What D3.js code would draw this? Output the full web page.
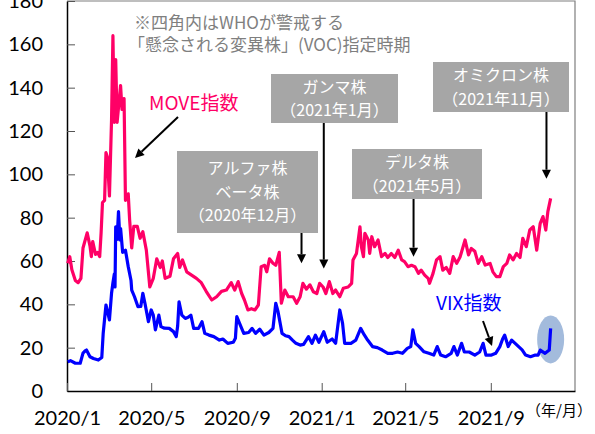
<!DOCTYPE html>
<html>
<head>
<meta charset="utf-8">
<script src="https://cdn.jsdelivr.net/npm/d3@7"></script>
<style>
  body { margin: 0; background: #fff; }
  svg { display: block; }
  .tick text { font-family: Lato, "Liberation Sans", sans-serif; }
  .jp { font-family: "Noto Sans CJK JP", sans-serif; }
</style>
</head>
<body>
<div id="chart"></div>
<script>
// y axis ticks and x axis tick dates / labels
const yTicks = [0, 20, 40, 60, 80, 100, 120, 140, 160, 180];
const xTickDates = ["2020-01-01", "2020-05-01", "2020-09-01", "2021-01-01", "2021-05-01", "2021-09-01"];
const xTickLabels = ["2020/1", "2020/5", "2020/9", "2021/1", "2021/5", "2021/9"];

// MOVE index
const moveSeries = [
  ["2020-01-02", 59], ["2020-01-05", 62], ["2020-01-08", 56], ["2020-01-13", 51], ["2020-01-17", 50],
  ["2020-01-21", 52], ["2020-01-24", 66], ["2020-01-30", 73], ["2020-02-03", 67], ["2020-02-05", 62],
  ["2020-02-07", 69], ["2020-02-11", 63], ["2020-02-14", 64], ["2020-02-17", 62], ["2020-02-19", 73],
  ["2020-02-21", 87], ["2020-02-24", 88], ["2020-02-26", 110], ["2020-02-28", 108], ["2020-03-02", 90],
  ["2020-03-05", 125], ["2020-03-07", 164], ["2020-03-09", 124], ["2020-03-11", 153], ["2020-03-13", 124],
  ["2020-03-18", 141], ["2020-03-20", 130], ["2020-03-23", 135], ["2020-03-25", 88], ["2020-03-29", 91],
  ["2020-03-31", 79], ["2020-04-03", 66], ["2020-04-06", 76], ["2020-04-11", 76], ["2020-04-15", 70.5],
  ["2020-04-19", 73.5], ["2020-04-24", 65], ["2020-04-29", 48], ["2020-05-04", 52], ["2020-05-09", 61],
  ["2020-05-14", 57], ["2020-05-17", 60], ["2020-05-21", 52], ["2020-05-28", 53], ["2020-06-02", 61],
  ["2020-06-08", 63.5], ["2020-06-11", 57], ["2020-06-15", 60.5], ["2020-06-21", 55], ["2020-06-28", 53.5],
  ["2020-07-05", 52], ["2020-07-12", 50], ["2020-07-19", 46], ["2020-07-27", 42], ["2020-08-03", 43.5],
  ["2020-08-10", 46], ["2020-08-17", 46.6], ["2020-08-24", 50], ["2020-08-29", 46.6], ["2020-09-03", 50.5],
  ["2020-09-08", 45], ["2020-09-12", 42], ["2020-09-17", 37.4], ["2020-09-22", 38], ["2020-09-27", 37.4],
  ["2020-10-02", 39.7], ["2020-10-06", 57.4], ["2020-10-11", 58], ["2020-10-14", 55], ["2020-10-18", 61],
  ["2020-10-23", 59], ["2020-10-27", 58], ["2020-11-01", 64], ["2020-11-04", 40.5], ["2020-11-09", 46.6],
  ["2020-11-14", 43.5], ["2020-11-21", 43.5], ["2020-11-26", 40.5], ["2020-12-01", 43.5], ["2020-12-05", 49.7],
  ["2020-12-10", 47], ["2020-12-15", 49], ["2020-12-20", 45.8], ["2020-12-25", 45], ["2020-12-29", 49.7],
  ["2021-01-03", 48], ["2021-01-07", 45], ["2021-01-12", 50.5], ["2021-01-17", 45], ["2021-01-21", 46.6],
  ["2021-01-27", 43.5], ["2021-02-01", 47.4], ["2021-02-08", 48], ["2021-02-13", 49.7], ["2021-02-15", 60.5],
  ["2021-02-20", 63.5], ["2021-02-25", 75.8], ["2021-02-27", 66.6], ["2021-03-02", 62], ["2021-03-04", 72.8],
  ["2021-03-09", 69.7], ["2021-03-11", 63.5], ["2021-03-14", 71.2], ["2021-03-18", 66.6], ["2021-03-23", 69.7],
  ["2021-03-28", 62], ["2021-04-02", 63.5], ["2021-04-06", 61.6], ["2021-04-11", 63.5], ["2021-04-16", 61.6],
  ["2021-04-21", 65], ["2021-04-26", 60.5], ["2021-04-30", 59.7], ["2021-05-05", 57.4], ["2021-05-10", 58],
  ["2021-05-15", 57.4], ["2021-05-20", 54.3], ["2021-05-24", 55.8], ["2021-05-29", 53.5], ["2021-06-03", 52],
  ["2021-06-05", 49.7], ["2021-06-10", 54.3], ["2021-06-15", 60.5], ["2021-06-20", 62], ["2021-06-24", 55.8],
  ["2021-06-29", 57], ["2021-07-04", 54.3], ["2021-07-09", 62], ["2021-07-14", 58.9], ["2021-07-19", 62],
  ["2021-07-26", 69.7], ["2021-07-31", 62.8], ["2021-08-04", 65.8], ["2021-08-09", 64.5], ["2021-08-14", 58.9],
  ["2021-08-19", 62], ["2021-08-24", 58.1], ["2021-08-31", 58.9], ["2021-09-04", 55], ["2021-09-09", 52.8],
  ["2021-09-14", 52.8], ["2021-09-19", 57.4], ["2021-09-24", 58.9], ["2021-09-28", 62.8], ["2021-10-03", 60.5],
  ["2021-10-08", 63.5], ["2021-10-13", 61.6], ["2021-10-17", 70.5], ["2021-10-22", 66.6], ["2021-10-27", 74.3],
  ["2021-11-01", 75.8], ["2021-11-06", 65], ["2021-11-11", 77.4], ["2021-11-15", 80.5], ["2021-11-19", 74.3],
  ["2021-11-22", 82.8], ["2021-11-26", 88.9]
];

// VIX index
const vixSeries = [
  ["2020-01-02", 13.5], ["2020-01-06", 14], ["2020-01-13", 12.8], ["2020-01-20", 12.8], ["2020-01-24", 17.5],
  ["2020-01-27", 18.5], ["2020-01-29", 18.9], ["2020-02-03", 15.8], ["2020-02-08", 15], ["2020-02-15", 14.3],
  ["2020-02-20", 15.5], ["2020-02-22", 26.6], ["2020-02-26", 39.7], ["2020-03-02", 32.8], ["2020-03-05", 45.1],
  ["2020-03-07", 50], ["2020-03-09", 54], ["2020-03-10", 48], ["2020-03-11", 75.8], ["2020-03-13", 70],
  ["2020-03-15", 82.8], ["2020-03-17", 69.7], ["2020-03-18", 75], ["2020-03-21", 64], ["2020-03-25", 65],
  ["2020-03-29", 57.4], ["2020-04-02", 51], ["2020-04-03", 46.6], ["2020-04-07", 43.5], ["2020-04-12", 38.9],
  ["2020-04-16", 39], ["2020-04-19", 45.1], ["2020-04-22", 40.5], ["2020-04-27", 32], ["2020-05-01", 37.4],
  ["2020-05-04", 35], ["2020-05-07", 28.2], ["2020-05-12", 35], ["2020-05-15", 29.7], ["2020-05-20", 29],
  ["2020-05-27", 28.9], ["2020-06-02", 27.4], ["2020-06-06", 25.1], ["2020-06-08", 30], ["2020-06-10", 41.2],
  ["2020-06-14", 35], ["2020-06-19", 33.5], ["2020-06-23", 34], ["2020-06-27", 35], ["2020-07-01", 28.9],
  ["2020-07-08", 28.9], ["2020-07-13", 32], ["2020-07-17", 26.6], ["2020-07-23", 25.8], ["2020-07-30", 25.1],
  ["2020-08-07", 23.5], ["2020-08-12", 24], ["2020-08-19", 22], ["2020-08-27", 22.5], ["2020-08-30", 24.3],
  ["2020-09-01", 34.3], ["2020-09-05", 31.2], ["2020-09-11", 26.6], ["2020-09-18", 27], ["2020-09-23", 28.9],
  ["2020-09-28", 26.6], ["2020-10-04", 28.5], ["2020-10-10", 25.8], ["2020-10-17", 27], ["2020-10-23", 28.9],
  ["2020-10-27", 40.5], ["2020-10-30", 37], ["2020-11-05", 26.6], ["2020-11-10", 25.5], ["2020-11-15", 25.1],
  ["2020-11-20", 23.5], ["2020-11-25", 22], ["2020-12-01", 21.2], ["2020-12-06", 21.5], ["2020-12-13", 25.1],
  ["2020-12-18", 22], ["2020-12-23", 25.8], ["2020-12-28", 22.5], ["2021-01-04", 27.4], ["2021-01-09", 22.5],
  ["2021-01-16", 24], ["2021-01-21", 22], ["2021-01-27", 37.4], ["2021-01-31", 31.2], ["2021-02-03", 22],
  ["2021-02-12", 22], ["2021-02-19", 23.5], ["2021-02-26", 28.9], ["2021-03-03", 26], ["2021-03-08", 23.5],
  ["2021-03-15", 20.5], ["2021-03-22", 20], ["2021-03-29", 18.9], ["2021-04-06", 17.4], ["2021-04-13", 17.4],
  ["2021-04-20", 18], ["2021-04-27", 17.4], ["2021-05-04", 19.7], ["2021-05-09", 20.5], ["2021-05-12", 28.2],
  ["2021-05-16", 22], ["2021-05-21", 20.5], ["2021-05-28", 18.1], ["2021-06-04", 17.4], ["2021-06-11", 16.6],
  ["2021-06-16", 20.5], ["2021-06-21", 16.6], ["2021-06-28", 15.8], ["2021-07-06", 17.4], ["2021-07-10", 20.5],
  ["2021-07-15", 16.6], ["2021-07-21", 22], ["2021-07-25", 18], ["2021-08-01", 18], ["2021-08-09", 16.6],
  ["2021-08-16", 18], ["2021-08-21", 22], ["2021-08-25", 16.6], ["2021-09-02", 16.6], ["2021-09-08", 17.4],
  ["2021-09-14", 20.5], ["2021-09-18", 24], ["2021-09-21", 25.8], ["2021-09-26", 20.5], ["2021-10-01", 23.5],
  ["2021-10-06", 22], ["2021-10-11", 20.5], ["2021-10-16", 19], ["2021-10-21", 16.6], ["2021-10-28", 15.8],
  ["2021-11-04", 16.6], ["2021-11-08", 16.6], ["2021-11-11", 18.9], ["2021-11-18", 17.4], ["2021-11-24", 18.9],
  ["2021-11-26", 28.9]
];

// annotation texts
const noteLines = ["※四角内はWHOが警戒する", "「懸念される変異株」(VOC)指定時期"];
const vocLabels = [["アルファ株", "ベータ株", "（2020年12月）"], ["ガンマ株", "（2021年1月）"], ["デルタ株", "（2021年5月）"], ["オミクロン株", "（2021年11月）"]];
const vocArrowDates = ["2020-12-03", "2021-01-04", "2021-05-13", "2021-11-20"];
const vocArrowValues = [59, 56.5, 62, 98];

const W = 595, H = 434;
const plotL = 67, plotR = 575, plotT = 1, plotB = 391;
const parse = d3.timeParse("%Y-%m-%d");
const pink = "#ff0066", blue = "#0000ff";

const svg = d3.select("#chart").append("svg").attr("width", W).attr("height", H);

const x = d3.scaleTime().domain([parse("2020-01-01"), parse("2021-12-31")]).range([plotL, plotR]);
const y = d3.scaleLinear().domain([0, 180]).range([plotB, plotT]);

// plot frame (top/right gray)
svg.append("path")
  .attr("d", `M${plotL},${plotT}H${plotR}V${plotB}`)
  .attr("fill", "none").attr("stroke", "#7f7f7f").attr("stroke-width", 1.2);

// y axis
const yAxis = svg.append("g").attr("transform", `translate(${plotL},0)`)
  .call(d3.axisLeft(y).tickValues(yTicks).tickSize(-8).tickSizeOuter(0).tickPadding(24));
yAxis.selectAll("text").attr("font-size", 20).attr("fill", "#000");
yAxis.selectAll(".tick line").attr("stroke", "#555");
yAxis.select(".domain").attr("stroke", "#000").attr("stroke-width", 1.5);

// x axis
const xAxis = svg.append("g").attr("transform", `translate(0,${plotB})`)
  .call(d3.axisBottom(x).tickValues(xTickDates.map(parse))
    .tickFormat((d, i) => xTickLabels[i]).tickSize(-8).tickSizeOuter(0).tickPadding(20));
xAxis.selectAll("text").attr("font-size", 20).attr("fill", "#000");
xAxis.selectAll(".tick line").attr("stroke", "#555");
xAxis.select(".domain").attr("stroke", "#000").attr("stroke-width", 1.5);

svg.append("text").attr("class", "jp")
  .attr("x", 559).attr("y", 416).attr("text-anchor", "middle")
  .attr("font-size", 15).attr("fill", "#000").text("（年/月）");

const line = d3.line()
  .x(d => x(parse(d[0])))
  .y(d => y(d[1]));

// omicron highlight behind the VIX line
const last = vixSeries[vixSeries.length - 1];
svg.append("ellipse")
  .attr("cx", x(parse(last[0]))).attr("cy", y(last[1]) + 11)
  .attr("rx", 13.5).attr("ry", 24)
  .attr("fill", "#a3bbdc");

svg.append("path").datum(moveSeries).attr("d", line)
  .attr("fill", "none").attr("stroke", pink).attr("stroke-width", 3.2).attr("stroke-linejoin", "round");
svg.append("path").datum(vixSeries).attr("d", line)
  .attr("fill", "none").attr("stroke", blue).attr("stroke-width", 3.2).attr("stroke-linejoin", "round");

// note text
svg.selectAll(".note").data(noteLines).join("text")
  .attr("class", "jp").attr("x", (d, i) => i ? 128 : 134).attr("y", (d, i) => 29 + i * 22)
  .attr("font-size", 17).attr("fill", "#7f7f7f").text(d => d);

// arrows
function arrow(x1, y1, x2, y2) {
  const a = Math.atan2(y2 - y1, x2 - x1), L = 9, w = 4.5;
  const bx = x2 - L * Math.cos(a), by = y2 - L * Math.sin(a);
  svg.append("line").attr("x1", x1).attr("y1", y1).attr("x2", bx).attr("y2", by)
    .attr("stroke", "#000").attr("stroke-width", 2);
  svg.append("path")
    .attr("d", `M${x2},${y2}L${bx - w * Math.sin(a)},${by + w * Math.cos(a)}L${bx + w * Math.sin(a)},${by - w * Math.cos(a)}Z`)
    .attr("fill", "#000");
}

// gray VOC boxes
const boxes = [
  { x0: 177, y0: 151, x1: 318, y1: 233 },
  { x0: 271, y0: 74, x1: 398, y1: 123 },
  { x0: 352, y0: 149, x1: 482, y1: 199 },
  { x0: 433, y0: 62, x1: 569, y1: 112 }
];
boxes.forEach((b, i) => {
  const ax = x(parse(vocArrowDates[i]));
  arrow(ax, b.y1, ax, y(vocArrowValues[i]));
});
boxes.forEach((b, i) => {
  svg.append("rect").attr("x", b.x0).attr("y", b.y0)
    .attr("width", b.x1 - b.x0).attr("height", b.y1 - b.y0).attr("fill", "#a6a6a6");
  const lines = vocLabels[i];
  const cx = (b.x0 + b.x1) / 2, cy = (b.y0 + b.y1) / 2;
  lines.forEach((t, j) => {
    svg.append("text").attr("class", "jp")
      .attr("x", cx).attr("y", cy + (j - (lines.length - 1) / 2) * 23.5)
      .attr("dy", "0.36em").attr("text-anchor", "middle")
      .attr("font-size", 16).attr("fill", "#fff").text(t);
  });
});

// series labels
svg.append("text").attr("class", "jp").attr("x", 149).attr("y", 110)
  .attr("font-size", 19).attr("fill", pink).text("MOVE指数");
arrow(178, 117, 135, 158);

svg.append("text").attr("class", "jp").attr("x", 436).attr("y", 310)
  .attr("font-size", 19).attr("fill", blue).text("VIX指数");
arrow(483, 321, 492, 346);
</script>
</body>
</html>
